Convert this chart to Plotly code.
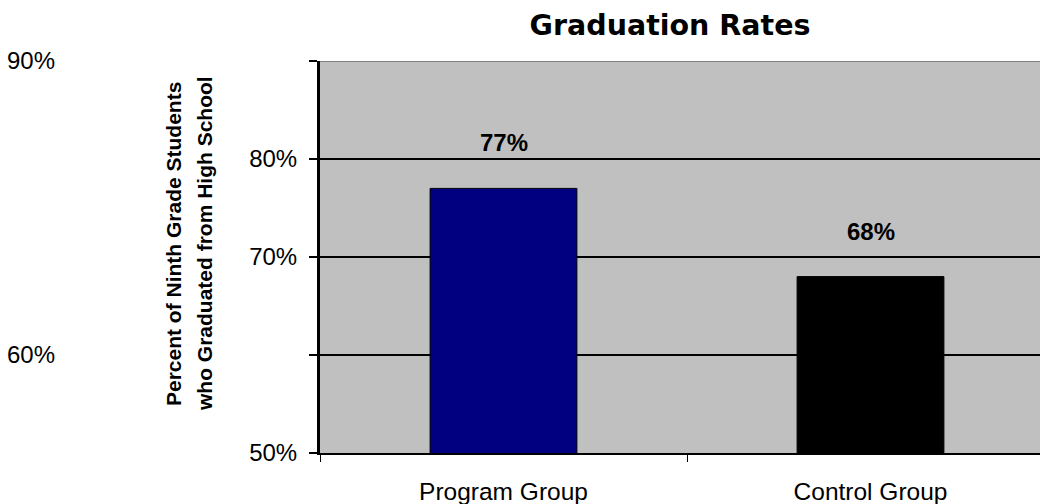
import plotly.graph_objects as go

categories = ["Program Group", "Control Group"]
values = [77, 68]
bar_colors = ["#000080", "#000000"]
main_tickvals = [50, 60, 70, 80, 90]
main_ticktext = ["50%", "", "70%", "80%", ""]
side_tickvals = [60, 90]
side_ticktext = ["60%", "90%"]
title_text = "Graduation Rates"
ytitle_lines = ["Percent of Ninth Grade Students", "who Graduated from High School"]

W, H = 1040, 504
L_PLOT = 320
FONT = "Liberation Sans, Arial, sans-serif"

fig = go.Figure()
fig.add_trace(go.Bar(
    x=categories, y=values, width=0.4,
    marker=dict(color=bar_colors, line=dict(color="#000000", width=1)),
    showlegend=False, hoverinfo="x+y",
))
fig.add_trace(go.Scatter(
    x=categories, y=[None, None], yaxis="y2", mode="markers",
    showlegend=False, hoverinfo="skip",
))

for cat, v in zip(categories, values):
    fig.add_annotation(
        x=cat, y=v, text=f"<b>{v}%</b>", showarrow=False,
        yanchor="bottom", yshift=30,
        font=dict(family=FONT, size=24, color="#000000"),
    )

# y-axis title, two rotated lines
for i, line in enumerate(ytitle_lines):
    fig.add_annotation(
        xref="paper", yref="paper",
        x=(173 + 31 * i) / W, y=(453 - 244) / 392,
        text=f"<b>{line}</b>", textangle=-90, showarrow=False,
        xanchor="center", yanchor="middle",
        font=dict(family=FONT, size=21, color="#000000"),
    )

# gray top border of the plot area
fig.add_shape(type="line", xref="paper", yref="y",
              x0=L_PLOT / W, x1=1, y0=90, y1=90,
              line=dict(color="#808080", width=2))

fig.update_layout(
    width=W, height=H,
    margin=dict(l=0, r=0, t=61, b=51, autoexpand=False),
    paper_bgcolor="#FFFFFF",
    plot_bgcolor="#C0C0C0",
    title=dict(
        text="<b>" + title_text + "</b>",
        x=670 / W, xanchor="center",
        y=1 - 25 / H, yanchor="middle", yref="container",
        font=dict(family="DejaVu Sans, sans-serif", size=28.5, color="#000000"),
    ),
    xaxis=dict(
        type="category",
        domain=[L_PLOT / W, 1],
        range=[-0.5, -0.5 + (W - L_PLOT) / 367],
        tickson="boundaries",
        ticks="outside", ticklen=7, tickwidth=1, tickcolor="#000000",
        showline=True, linecolor="#000000", linewidth=2,
        showgrid=False, zeroline=False, automargin=False,
        tickfont=dict(family=FONT, size=24.5, color="#000000"),
        ticklabelstandoff=16,
    ),
    yaxis=dict(
        range=[50, 90],
        tickvals=main_tickvals, ticktext=main_ticktext,
        ticks="outside", ticklen=8, tickwidth=2, tickcolor="#000000",
        showline=True, linecolor="#000000", linewidth=3,
        showgrid=True, gridcolor="#000000", gridwidth=2,
        zeroline=False, automargin=False,
        tickfont=dict(family=FONT, size=24, color="#000000"),
        ticklabelstandoff=7,
    ),
    yaxis2=dict(
        overlaying="y", anchor="free", position=0, side="right",
        range=[50, 90],
        tickvals=side_tickvals, ticktext=side_ticktext,
        ticks="", showline=False, showgrid=False, zeroline=False,
        automargin=False,
        tickfont=dict(family=FONT, size=24, color="#000000"),
        ticklabelstandoff=6,
    ),
    bargap=0.6,
)

fig.write_html(
    "out.html",
    config={"displayModeBar": False},
    post_script="document.body.style.margin='0';document.body.style.overflow='hidden';",
)
